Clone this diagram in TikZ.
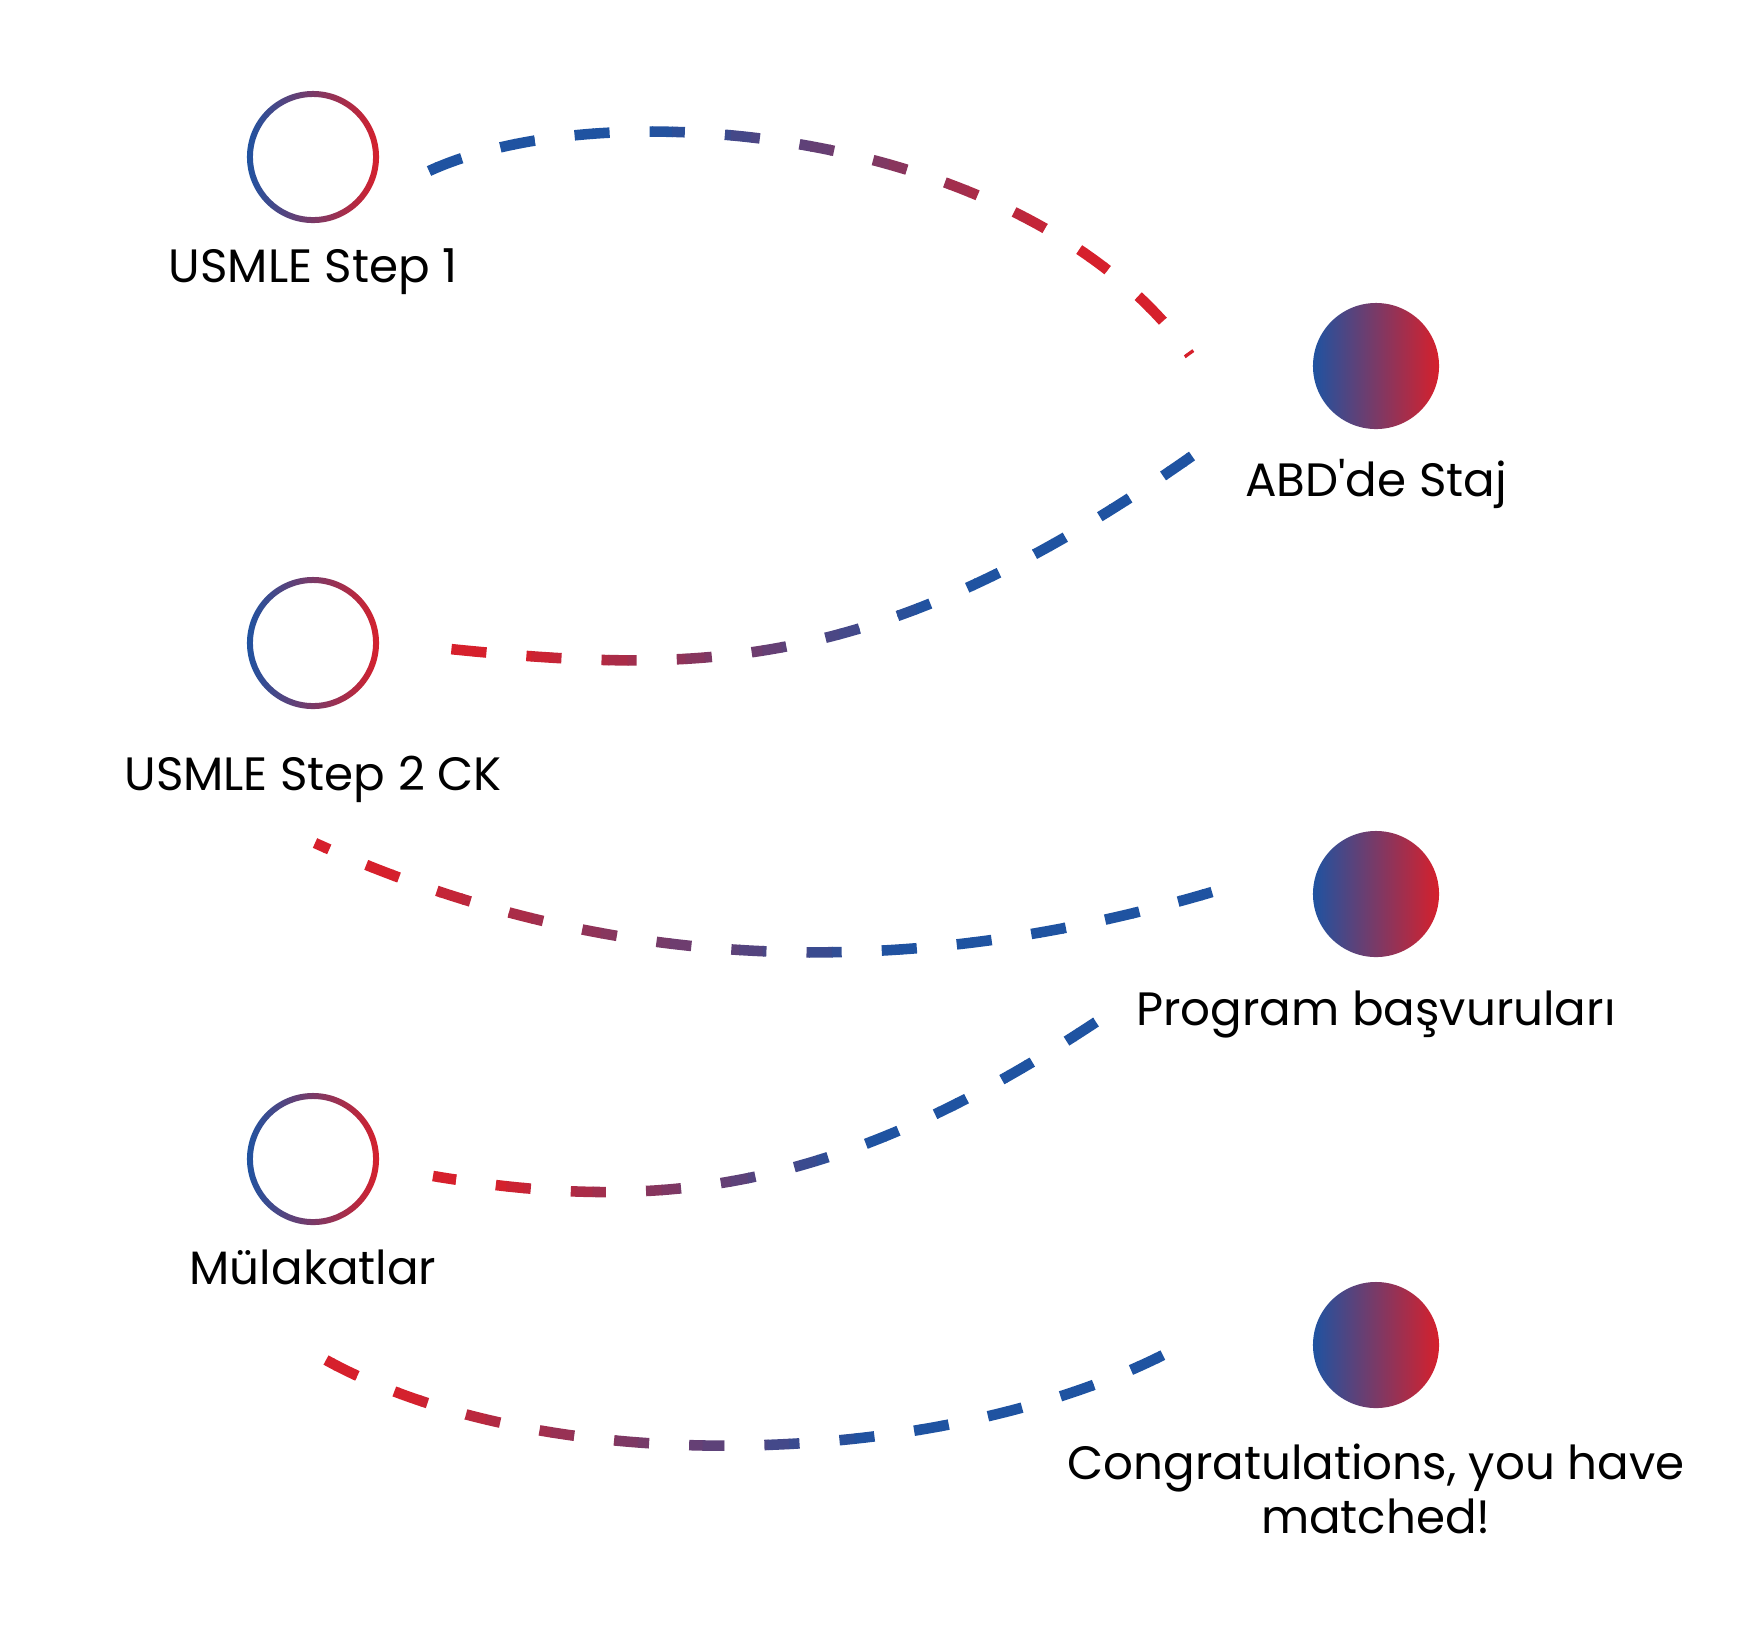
\documentclass[tikz,border=0pt]{standalone}
\usepackage{fontspec}
\setmainfont{Poppins}
\usepackage{tikz}
\usetikzlibrary{positioning}
\definecolor{cblue}{RGB}{31,83,161}
\definecolor{cred}{RGB}{214,32,44}
\tikzset{
  ring/.style={circle, minimum size=1.32cm, inner sep=0pt},
  ringshade/.style={even odd rule, left color=cblue, right color=cred},
  dotnode/.style={circle, minimum size=1.26cm, inner sep=0pt,
                  left color=cblue, right color=cred},
  lbl/.style={font=\fontsize{13.3}{15.6}\selectfont, align=center,
              inner sep=0pt},
  dashline/.style={line width=3pt, dash pattern=on 10pt off 11.4pt},
}
% dashed path #7 coloured from #1 (left) to #2 (right) between x=#3 and x=#4,
% the colour change runs between the fractions #5 and #6 of that width
\newcommand{\gradline}[7]{%
  \foreach \k in {0,...,39}{
    \pgfmathsetmacro{\xa}{#3+(#4-#3)/40*\k}
    \pgfmathsetmacro{\xb}{#3+(#4-#3)/40*(\k+1)+1}
    \pgfmathtruncatemacro{\mix}{100-100*min(1,max(0,(\k/39-#5)/(#6-#5)))}
    \begin{scope}
      \clip (\xa,-10) rectangle (\xb,1650);
      \draw[dashline, draw=#1!\mix!#2] #7;
    \end{scope}
  }}

\begin{document}
\begin{tikzpicture}[x=0.01cm, y=-0.01cm]
  \useasboundingbox (0,0) rectangle (1763,1638);

  % left column: open rings
  \node[ring] (s1) at (313,157) {};
  \node[ring] (s2) at (313,643) {};
  \node[ring] (s3) at (313,1159) {};
  \shade[ringshade] (s1) circle (0.66cm) (s1) circle (0.60cm);
  \shade[ringshade] (s2) circle (0.66cm) (s2) circle (0.60cm);
  \shade[ringshade] (s3) circle (0.66cm) (s3) circle (0.60cm);

  \node[lbl, below=0.59cm of s1, anchor=base] (l1) {USMLE Step 1};
  \node[lbl, below=0.81cm of s2, anchor=base] (l3) {USMLE Step 2 CK};
  \node[lbl, below=0.585cm of s3, anchor=base] (l5) {Mülakatlar};

  % right column: filled dots
  \node[dotnode] (n1) at (1376,366) {};
  \node[dotnode] (n2) at (1376,894) {};
  \node[dotnode] (n3) at (1376,1345) {};

  \node[lbl, below=0.665cm of n1, anchor=base] (l2) {ABD\textquotesingle de Staj};
  \node[lbl, below=0.68cm of n2, anchor=base] (l4) {Program başvuruları};
  \node[lbl, below=0.34cm of n3, anchor=north] (l6)
    {Congratulations, you have\\matched!};

  % free ends of the dashed links
  \coordinate (a0) at (429,171);
  \coordinate (a1) at (1190,355);
  \coordinate (b0) at (1192,456);
  \coordinate (b1) at (450,649);
  \coordinate (c0) at (1212,892);
  \coordinate (c1) at (315,843);
  \coordinate (d0) at (1096,1022);
  \coordinate (d1) at (433,1176);
  \coordinate (e0) at (326,1360);
  \coordinate (e1) at (1165,1354);

  \gradline{cblue}{cred}{415}{1205}{0.3}{0.85}
    {(a0) .. controls (610,88) and (1030,130) .. (a1)}
  \gradline{cred}{cblue}{435}{1205}{0.1}{0.65}
    {(b0) .. controls (878,676) and (699,674) .. (b1)}
  \gradline{cred}{cblue}{300}{1225}{0.1}{0.65}
    {(c0) .. controls (880,990) and (585,965) .. (c1)}
  \gradline{cred}{cblue}{420}{1110}{0.1}{0.65}
    {(d0) .. controls (830,1198) and (650,1212) .. (d1)}
  \gradline{cred}{cblue}{312}{1180}{0.1}{0.65}
    {(e0) .. controls (548,1482) and (940,1468) .. (e1)}
\end{tikzpicture}
\end{document}
